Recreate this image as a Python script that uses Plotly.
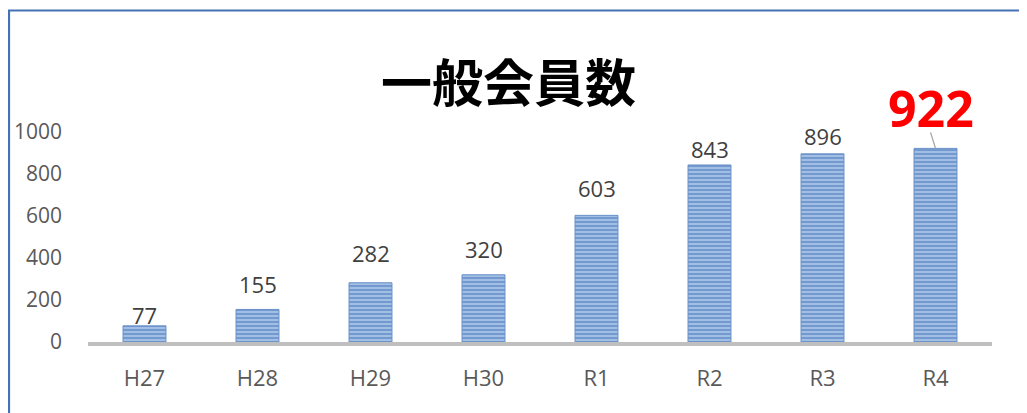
import plotly.graph_objects as go

categories = ["H27", "H28", "H29", "H30", "R1", "R2", "R3", "R4"]
members = [77, 155, 282, 320, 603, 843, 896, 922]
title_text = "一般会員数"
y_ticks = [0, 200, 400, 600, 800, 1000]

# label lift above bar top (pixels), as placed in the source chart
label_lift = [10, 24, 29, 25, 26, 15, 17, 38]

OFF = 8  # page body margin
W, H = 1027 - OFF, 413 - OFF
ML, MR, MT, MB = 80, 35, 124, 71

fig = go.Figure()
fig.add_trace(go.Bar(
    x=categories, y=members,
    width=0.38,
    marker=dict(
        color="#9fbde6",
        line=dict(width=1, color="#6890c8"),
        pattern=dict(shape="-", size=4, solidity=0.6,
                     fgcolor="#3a69b2", bgcolor="#adc8ea", fillmode="overlay"),
    ),
    hoverinfo="skip",
))

for i, (c, v) in enumerate(zip(categories, members)):
    last = i == len(members) - 1
    fig.add_annotation(
        x=c, y=v, text=("<b>%d</b>" % v) if last else str(v),
        showarrow=False, xanchor="center", yanchor="middle",
        xshift=-5 if last else 0, yshift=label_lift[i] + (2 if last else 1),
        font=dict(family="Open Sans", size=50 if last else 22,
                  color="#ff0000" if last else "#404040"),
    )

# leader line from the highlighted label down to its bar
fig.add_shape(type="line", xref="x", yref="y",
              xsizemode="pixel", ysizemode="pixel",
              xanchor=categories[-1], yanchor=members[-1],
              x0=0, y0=0, x1=-5, y1=16,
              line=dict(color="#a6a6a6", width=1.3))

pw = W - ML - MR
ph = H - MT - MB
def px_x(p):
    return (p - ML) / pw
def px_y(p):
    return (H - MB - p) / ph

fig.add_shape(type="rect", xref="paper", yref="paper",
              x0=px_x(1), x1=px_x(W + 20), y0=px_y(H + 20), y1=px_y(2.5),
              line=dict(color="#4472b4", width=2.2), fillcolor="rgba(0,0,0,0)", layer="above")

fig.update_layout(
    width=W, height=H,
    margin=dict(l=ML, r=MR, t=MT, b=MB, autoexpand=False),
    paper_bgcolor="white", plot_bgcolor="white",
    showlegend=False,
    title=dict(text="<b>%s</b>" % title_text, x=(508.5 - OFF) / W, xref="container", xanchor="center",
               y=1 - (84 - OFF) / H, yref="container", yanchor="middle",
               font=dict(family="Noto Sans CJK JP", size=51, color="black")),
)
fig.update_xaxes(
    showline=True, linecolor="#bfbfbf", linewidth=3.5, automargin=False,
    ticks="", showgrid=False, ticklabelstandoff=14,
    tickfont=dict(family="Open Sans", size=22, color="#595959"),
)
fig.update_yaxes(
    range=[0, 1000], tickvals=y_ticks, ticks="", showgrid=False, showline=False,
    zeroline=False, ticklabelstandoff=25, automargin=False,
    tickfont=dict(family="Open Sans", size=21, color="#595959"),
)
fig.write_html("out.html")
